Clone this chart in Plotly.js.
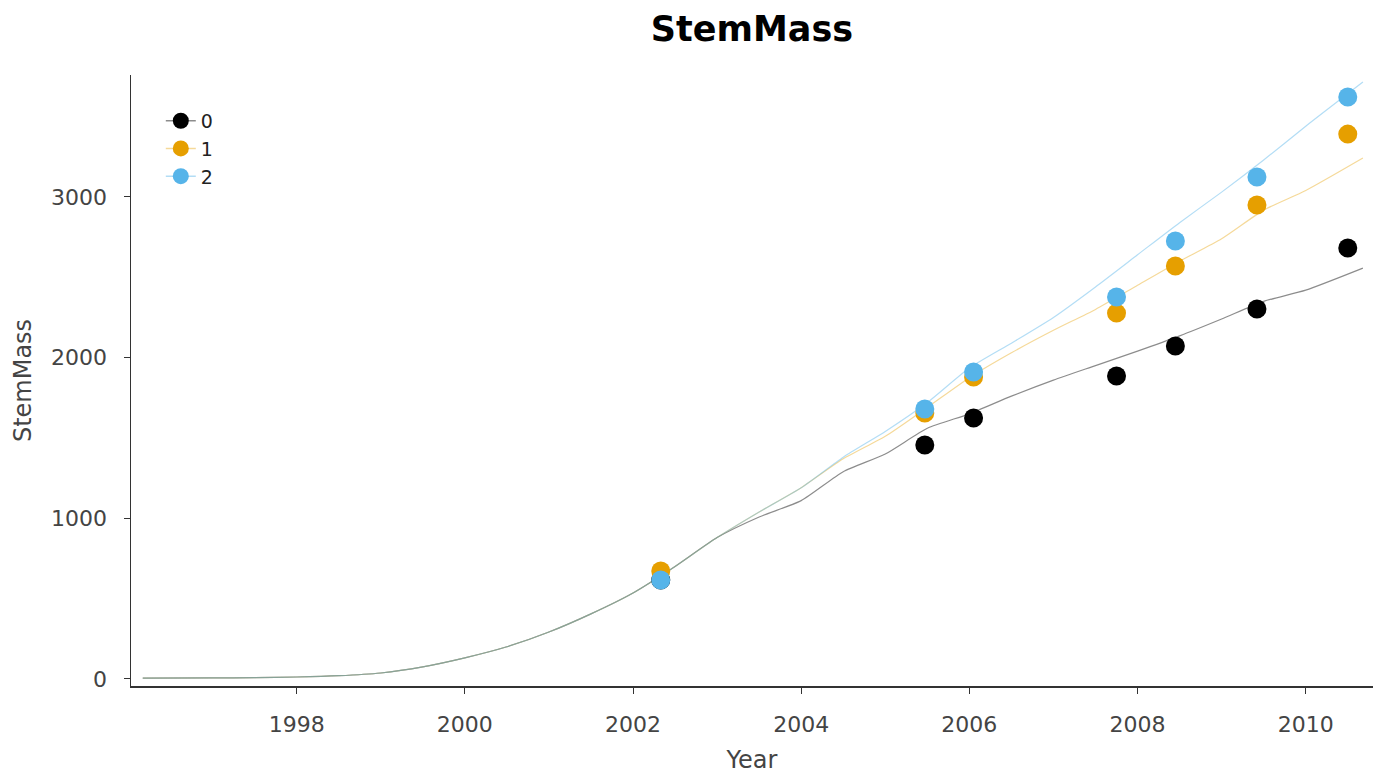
<!DOCTYPE html>
<html>
<head>
<meta charset="utf-8">
<script src="https://cdn.plot.ly/plotly-3.0.1.min.js"></script>
<style>html,body{margin:0;padding:0;background:#fff;}#chart{width:1395px;height:774px;}</style>
</head>
<body>
<div id="chart"></div>
<script>
// Simulated line data (years)
const simYears = [1996.17, 1997, 1997.5, 1998, 1998.5, 1999, 1999.5, 2000, 2000.5, 2001, 2001.5, 2002, 2002.5, 2003, 2003.5, 2004, 2004.5, 2005, 2005.5, 2006, 2006.5, 2007, 2007.5, 2008, 2008.5, 2009, 2009.5, 2010, 2010.68];
const sim0 = [5, 6, 8, 12, 20, 37, 75, 131, 200, 292, 405, 535, 700, 880, 1008, 1110, 1290, 1400, 1560, 1650, 1760, 1860, 1950, 2040, 2135, 2240, 2350, 2420, 2557];
const sim1 = [5, 6, 8, 12, 20, 37, 75, 131, 200, 292, 405, 535, 700, 880, 1039, 1190, 1370, 1510, 1690, 1875, 2030, 2170, 2300, 2450, 2600, 2740, 2918, 3040, 3242];
const sim2 = [5, 6, 8, 12, 20, 37, 75, 131, 200, 292, 405, 535, 700, 880, 1039, 1190, 1380, 1540, 1720, 1935, 2090, 2250, 2440, 2640, 2840, 3030, 3230, 3440, 3715];

// Observed points
const obsYears = [2002.33, 2005.47, 2006.05, 2007.75, 2008.45, 2009.42, 2010.5];
const obs0 = [615, 1456, 1624, 1885, 2072, 2302, 2682];
const obs1 = [672, 1655, 1879, 2277, 2570, 2950, 3391];
const obs2 = [616, 1680, 1910, 2377, 2726, 3124, 3622];

const seriesNames = ["0", "1", "2"];
const colors = ["#000000", "#E69F00", "#56B4E9"];
const lineColors = ["rgba(0,0,0,0.45)", "rgba(230,159,0,0.4)", "rgba(86,180,233,0.45)"];
const sims = [sim0, sim1, sim2];
const obss = [obs0, obs1, obs2];

const traces = [];
for (let i = 0; i < 3; i++) {
  traces.push({x: simYears, y: sims[i], mode: 'lines', line: {color: lineColors[i], width: 1.2, shape: 'spline', smoothing: 0.6}, showlegend: false, hoverinfo: 'skip'});
}
for (let i = 0; i < 3; i++) {
  traces.push({x: obsYears, y: obss[i], mode: 'markers', marker: {color: colors[i], size: 19}, showlegend: false});
}
for (let i = 0; i < 3; i++) {
  traces.push({x: [null], y: [null], mode: 'lines+markers', name: seriesNames[i], marker: {color: colors[i], size: 19}, line: {color: lineColors[i], width: 1.5}});
}

const layout = {
  width: 1395, height: 774,
  margin: {l: 131, r: 22, t: 75, b: 88},
  paper_bgcolor: '#fff', plot_bgcolor: '#fff',
  font: {family: 'DejaVu Sans, sans-serif', size: 22, color: '#333'},
  title: {text: '<b>StemMass</b>', xref: 'paper', x: 0.5, xanchor: 'center', yref: 'container', y: 0.963, yanchor: 'middle', font: {size: 35, color: '#000'}},
  xaxis: {
    title: {text: 'Year', font: {size: 24, color: '#444'}, standoff: 15},
    range: [1996.03, 2010.8], showgrid: false, zeroline: false,
    showline: true, linecolor: '#333', linewidth: 1.5,
    ticks: 'outside', ticklen: 6, tickcolor: '#333', ticklabelstandoff: 12,
    tickvals: [1998, 2000, 2002, 2004, 2006, 2008, 2010],
    tickfont: {size: 22, color: '#444'}
  },
  yaxis: {
    title: {text: 'StemMass', font: {size: 24, color: '#444'}, standoff: 12},
    range: [-44, 3759], showgrid: false, zeroline: false,
    showline: true, linecolor: '#333', linewidth: 1.5,
    ticks: 'outside', ticklen: 6, tickcolor: '#333', ticklabelstandoff: 12,
    tickvals: [0, 1000, 2000, 3000],
    tickfont: {size: 22, color: '#444'}
  },
  legend: {x: 0.024, y: 0.956, xanchor: 'left', yanchor: 'top', bgcolor: 'rgba(0,0,0,0)', font: {size: 19, color: '#222'}, itemwidth: 30, tracegroupgap: 0},
  showlegend: true
};

Plotly.newPlot('chart', traces, layout, {displayModeBar: false, staticPlot: true});
</script>
</body>
</html>
